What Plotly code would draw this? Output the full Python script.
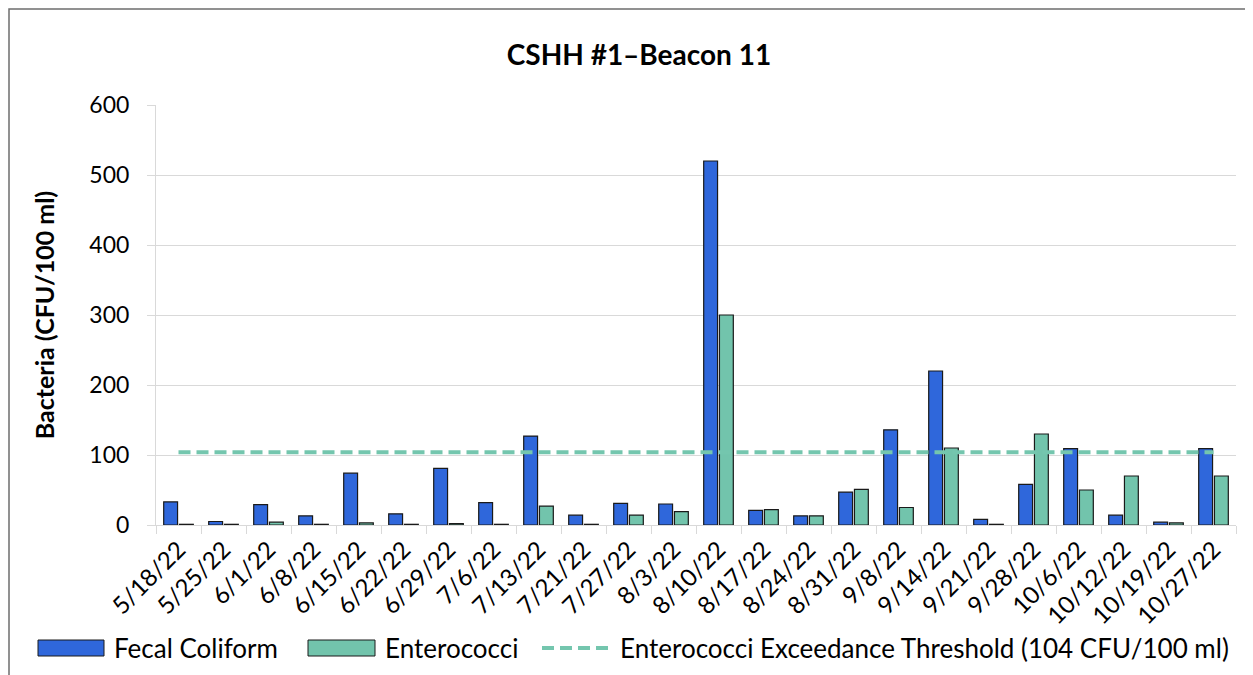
import plotly.graph_objects as go

dates = ["5/18/22", "5/25/22", "6/1/22", "6/8/22", "6/15/22", "6/22/22", "6/29/22",
         "7/6/22", "7/13/22", "7/21/22", "7/27/22", "8/3/22", "8/10/22", "8/17/22",
         "8/24/22", "8/31/22", "9/8/22", "9/14/22", "9/21/22", "9/28/22", "10/6/22",
         "10/12/22", "10/19/22", "10/27/22"]
fecal_coliform = [33, 5, 29, 13, 74, 16, 81, 32, 127, 14, 31, 30, 520, 21, 13, 47,
                  136, 220, 8, 58, 109, 14, 4, 109]
enterococci = [1, 1, 4, 1, 3, 1, 2, 1, 27, 1, 14, 19, 300, 22, 13, 51, 25, 110, 1,
               130, 50, 70, 3, 70]
threshold_value = 104
threshold = [threshold_value] * len(dates)
series_names = ["Fecal Coliform", "Enterococci",
                "Enterococci Exceedance Threshold (104 CFU/100 ml)"]

FONT = "Lato, 'Open Sans', sans-serif"
BLUE = "#2F67DB"
GREEN = "#72C4AC"
LINE_GREEN = "#74C6AE"
EDGE = "#1a1a1a"
DASH = "12px,6px"

fig = go.Figure()
fig.add_trace(go.Bar(x=dates, y=fecal_coliform, name=series_names[0],
                     marker=dict(color=BLUE, line=dict(color=EDGE, width=1.2))))
fig.add_trace(go.Bar(x=dates, y=enterococci, name=series_names[1],
                     marker=dict(color=GREEN, line=dict(color=EDGE, width=1.2))))
fig.add_trace(go.Scatter(x=dates, y=threshold, mode="lines", name=series_names[2],
                         line=dict(color=LINE_GREEN, width=4, dash=DASH)))

L, R, T, B = 148, 25, 97, 158
W, H = 1253, 675
pw, ph = W - L - R, H - T - B


def px(x):
    return (x - L) / pw


def py(y):
    return (T + ph - y) / ph


fig.update_layout(
    width=W, height=H,
    margin=dict(l=L, r=R, t=T, b=B, autoexpand=False),
    paper_bgcolor="white", plot_bgcolor="white",
    font=dict(family=FONT, size=24, color="#000000"),
    barmode="group", bargap=0.3, bargroupgap=0.12,
    title=dict(text="<b>CSHH #1–Beacon 11</b>", font=dict(family=FONT, size=28, color="#000"),
               x=px(631), xref="paper", xanchor="center",
               y=1 - 47 / H, yref="container", yanchor="middle"),
    showlegend=False,
    xaxis=dict(type="category", showgrid=False, showline=True, linecolor="#d9d9d9",
               linewidth=1, ticks="outside", tickson="boundaries", ticklen=8,
               tickcolor="#d9d9d9", tickangle=-45,
               tickfont=dict(family=FONT, size=24, color="#000")),
    yaxis=dict(range=[0, 600], dtick=100, showgrid=True, gridcolor="#d9d9d9",
               gridwidth=1, showline=True, linecolor="#d9d9d9", linewidth=1,
               ticks="outside", ticklen=8, tickcolor="#d9d9d9", zeroline=False,
               ticklabelstandoff=13,
               tickfont=dict(family=FONT, size=23, color="#000")),
)
fig.update_yaxes(title=dict(text="<b>Bacteria (CFU/100 ml)</b>", standoff=27,
                            font=dict(family=FONT, size=25, color="#000")))

# legend drawn below the chart (wide swatches as in the reference)
LEG_Y = 640
legend_font = dict(family=FONT, size=26, color="#000")
fig.add_shape(type="rect", xref="paper", yref="paper",
              x0=px(30), x1=px(96), y0=py(LEG_Y + 8), y1=py(LEG_Y - 8),
              fillcolor=BLUE, line=dict(color=EDGE, width=1))
fig.add_annotation(xref="paper", yref="paper", x=px(104), y=py(LEG_Y),
                   xanchor="left", yanchor="middle", showarrow=False,
                   text=series_names[0], font=legend_font)
fig.add_shape(type="rect", xref="paper", yref="paper",
              x0=px(300), x1=px(367), y0=py(LEG_Y + 8), y1=py(LEG_Y - 8),
              fillcolor=GREEN, line=dict(color=EDGE, width=1))
fig.add_annotation(xref="paper", yref="paper", x=px(375), y=py(LEG_Y),
                   xanchor="left", yanchor="middle", showarrow=False,
                   text=series_names[1], font=legend_font)
fig.add_shape(type="line", xref="paper", yref="paper",
              x0=px(534), x1=px(602), y0=py(LEG_Y), y1=py(LEG_Y),
              line=dict(color=LINE_GREEN, width=4, dash=DASH))
fig.add_annotation(xref="paper", yref="paper", x=px(610), y=py(LEG_Y),
                   xanchor="left", yanchor="middle", showarrow=False,
                   text=series_names[2], font=legend_font)

# outer chart border
fig.add_shape(type="rect", xref="paper", yref="paper",
              x0=px(1), x1=px(W - 2), y0=py(H - 2), y1=py(1),
              line=dict(color="#6e6e6e", width=1.5), fillcolor="rgba(0,0,0,0)", layer="below")

fig.write_html("out.html")
